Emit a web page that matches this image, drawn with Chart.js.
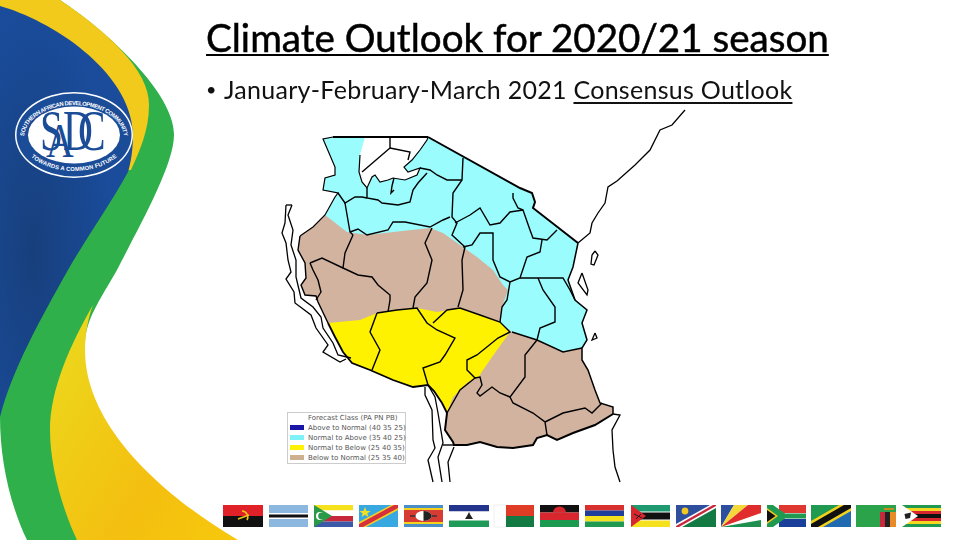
<!DOCTYPE html>
<html>
<head>
<meta charset="utf-8">
<title>Climate Outlook for 2020/21 season</title>
<script src="https://cdn.jsdelivr.net/npm/chart.js@4/dist/chart.umd.min.js"></script>
<style>
  html, body { margin:0; padding:0; background:#fff; }
  #slide { position:relative; width:960px; height:540px; overflow:hidden; font-family:Lato, "Open Sans", sans-serif; color:#111; }
  #deco, #mapCanvas { position:absolute; left:0; top:0; }
  #title { position:absolute; left:206px; top:13px; font-size:38.6px; line-height:48px; white-space:nowrap; text-decoration:underline; text-decoration-thickness:2px; text-underline-offset:2px; -webkit-text-stroke:0.5px #000; color:#000; }
  #bullet { position:absolute; left:206px; top:73px; font-size:18px; line-height:32px; }
  #subtitle { position:absolute; left:224px; top:73px; font-size:25px; line-height:32px; white-space:nowrap; letter-spacing:0.28px; }
  #subtitle u { text-decoration-thickness:1.5px; text-underline-offset:3px; }
  #legend { position:absolute; left:287px; top:412px; width:117px; height:50px; background:#fff; border:1px solid #ccc; font:7px/10px "DejaVu Sans", sans-serif; color:#555; white-space:nowrap; }
  #legend .head { position:absolute; left:20px; top:0; }
  #legend .row { position:absolute; left:20px; }
  #legend .sw { position:absolute; left:-18px; top:2px; width:14px; height:5px; }
</style>
</head>
<body>
<div id="slide">
  <svg id="deco" width="960" height="540" viewBox="0 0 960 540">
    <defs>
      <linearGradient id="lowY" x1="0" y1="0.2" x2="1" y2="1">
        <stop offset="0" stop-color="#ecd71c"/><stop offset="0.6" stop-color="#f4bf10"/><stop offset="1" stop-color="#f7c80c"/>
      </linearGradient>
      <radialGradient id="blueG" cx="0.25" cy="0.6" r="0.6">
        <stop offset="0" stop-color="#173f7c"/><stop offset="1" stop-color="#1a4c9b"/>
      </radialGradient>
      <path id="ringTop" d="M24 138 A50 33 0 0 1 124 138"/>
      <path id="ringBot" d="M18 132 A56 39 0 0 0 130 132"/>
    </defs>
    <!-- swooshes -->
    <path fill="#30b04b" d="M60 0 C110 33 175 95 174 135 C174 165 140 225 117 270 C100 300 85 320 85 345 L77 540 L27 540 C10 505 0 460 0 417 L0 0 Z"/>
    <path fill="url(#lowY)" d="M93 305 C70 345 50 390 50 430 C50 470 65 515 77 540 L238 540 C170 500 85 430 85 350 C85 335 88 318 93 305 Z"/>
    <path fill="#f2ca1b" d="M0 0 L60 0 C105 30 150 70 149 105 C149 130 140 150 131 170 L0 170 Z"/>
    <path fill="url(#blueG)" d="M0 6 C50 20 130 70 133 133 C133 150 131 162 128 172 C110 205 85 240 68 270 C40 320 12 370 0 417 Z"/>
    <!-- logo -->
    <ellipse cx="74" cy="135" rx="59" ry="43" fill="#fff"/>
    <ellipse cx="74" cy="135" rx="57.5" ry="41.5" fill="#1b4c97"/>
    <ellipse cx="74" cy="135" rx="46" ry="28.5" fill="#fff"/>
    <g font-family="'Liberation Sans'" font-size="5.8" font-weight="bold" fill="#fff" text-anchor="middle">
      <text><textPath href="#ringTop" startOffset="50%" textLength="128" lengthAdjust="spacing">SOUTHERN AFRICAN DEVELOPMENT COMMUNITY</textPath></text>
      <text><textPath href="#ringBot" startOffset="50%" textLength="92" lengthAdjust="spacing">TOWARDS A COMMON FUTURE</textPath></text>
    </g>
    <g font-family="'Liberation Serif'" fill="#1b4c97">
      <text transform="translate(40,150) scale(.74,1)" font-size="56">S</text>
      <text transform="translate(46,157) scale(.8,1)" font-size="48">A</text>
      <text transform="translate(63,150) scale(.74,1)" font-size="56">D</text>
      <text transform="translate(78,150) scale(.74,1)" font-size="56">C</text>
    </g>
    <!-- flags -->
    <g stroke="none">
      <g transform="translate(223,505)"><rect width="40" height="11" fill="#e02128"/><rect y="11" width="40" height="11" fill="#111"/><path d="M15 14 L26 10 M19 6 A6 6 0 0 1 24 15" stroke="#f0c419" stroke-width="1.6" fill="none"/></g>
      <g transform="translate(269,505)"><rect width="39" height="22" fill="#8cb8e0"/><rect y="8" width="39" height="6" fill="#fff"/><rect y="9.5" width="39" height="3" fill="#111"/></g>
      <g transform="translate(314,505)"><rect width="39" height="5.5" fill="#f5e11e"/><rect y="5.5" width="39" height="5.5" fill="#fff"/><rect y="11" width="39" height="5.5" fill="#c8283c"/><rect y="16.5" width="39" height="5.5" fill="#3c5aa8"/><path d="M0 0 L18 11 L0 22 Z" fill="#2a9a48"/><circle cx="6" cy="11" r="4" fill="#fff"/><circle cx="7.6" cy="11" r="3.4" fill="#2a9a48"/></g>
      <g transform="translate(359,505)"><rect width="39" height="22" fill="#38a8e0"/><path d="M0 17 L32 0 L39 0 L39 5 L7 22 L0 22 Z" fill="#f5d020"/><path d="M0 19 L35 0 L39 0 L39 3 L4 22 L0 22 Z" fill="#d6303c"/><path d="M6 2 L7.5 6 L11.5 6 L8.3 8.4 L9.5 12 L6 9.8 L2.5 12 L3.7 8.4 L.5 6 L4.5 6 Z" fill="#f5e11e"/></g>
      <g transform="translate(404,505)"><rect width="39" height="22" fill="#4a8ec8"/><rect y="3" width="39" height="16" fill="#f2d21f"/><rect y="5" width="39" height="12" fill="#d83a34"/><rect x="6" y="10.3" width="27" height="1.4" fill="#333"/><ellipse cx="19.5" cy="11" rx="8" ry="5" fill="#fff"/><path d="M19.5 6 A8 5 0 0 1 19.5 16 Z" fill="#222"/></g>
      <g transform="translate(449,505)"><rect width="40" height="6.5" fill="#23348c"/><rect y="6.5" width="40" height="9" fill="#fff"/><rect y="15.5" width="40" height="6.5" fill="#1f9a58"/><path d="M16 14 L24 14 L21.5 10 L20 7 L18.5 10 Z" fill="#222"/></g>
      <g transform="translate(494,505)"><rect width="12" height="22" fill="#fff" stroke="#ddd" stroke-width="0.5"/><rect x="12" width="28" height="11" fill="#df3c26"/><rect x="12" y="11" width="28" height="11" fill="#137a44"/></g>
      <g transform="translate(540,505)"><rect width="39" height="7.5" fill="#111"/><rect y="7.5" width="39" height="7.5" fill="#d8262e"/><rect y="15" width="39" height="7" fill="#1c9a50"/><path d="M13 7.5 A6.5 6 0 0 1 26 7.5 Z" fill="#d8262e"/></g>
      <g transform="translate(585,505)"><rect width="39" height="5.5" fill="#d8302e"/><rect y="5.5" width="39" height="5.5" fill="#1f3f9a"/><rect y="11" width="39" height="5.5" fill="#f5e11e"/><rect y="16.5" width="39" height="5.5" fill="#1f9a50"/></g>
      <g transform="translate(631,505)"><rect width="39" height="22" fill="#fff"/><rect width="39" height="6.5" fill="#1f9a70"/><rect y="7.5" width="39" height="7" fill="#111"/><rect y="15.5" width="39" height="6.5" fill="#f5e11e"/><path d="M0 0 L15 11 L0 22 Z" fill="#d8262e"/><path d="M3 9 L11 13 M5 14 L10 9" stroke="#222" stroke-width="1"/></g>
      <g transform="translate(676,505)"><rect width="40" height="22" fill="#fff"/><path d="M0 0 L40 0 L0 22 Z" fill="#2d4f9e"/><path d="M40 22 L0 22 L40 0 Z" fill="#137a44"/><path d="M0 19 L34 0 L40 0 L40 3 L6 22 L0 22 Z" fill="#fff"/><path d="M0 21 L37 0 L40 0 L40 1 L3 22 L0 22 Z" fill="#c8283c"/><circle cx="9" cy="6" r="3.4" fill="#f2c81f"/></g>
      <g transform="translate(721,505)"><rect width="40" height="22" fill="#fff"/><path d="M0 22 L0 0 L13 0 Z" fill="#2d4fa0"/><path d="M0 22 L13 0 L27 0 Z" fill="#f5d83a"/><path d="M0 22 L27 0 L40 0 L40 8 Z" fill="#e02c2c"/><path d="M0 22 L40 15 L40 22 Z" fill="#1f8f50"/></g>
      <g transform="translate(767,505)"><rect width="39" height="22" fill="#fff"/><rect x="12" width="27" height="8" fill="#de3831"/><rect x="12" y="14" width="27" height="8" fill="#1a3f9a"/><path d="M0 0 L6 0 L18 8.5 L39 8.5 L39 13.5 L18 13.5 L6 22 L0 22 Z" fill="#1f9a50"/><path d="M0 3 L11 11 L0 19 Z" fill="#f2c81f"/><path d="M0 5 L8.5 11 L0 17 Z" fill="#111"/></g>
      <g transform="translate(811,505)"><path d="M0 22 L0 0 L40 0 Z" fill="#1f9a50"/><path d="M0 22 L40 22 L40 0 Z" fill="#1f6ab0"/><path d="M0 16 L28 0 L40 0 L40 6 L12 22 L0 22 Z" fill="#f2d21f"/><path d="M0 19 L33 0 L40 0 L40 3 L7 22 L0 22 Z" fill="#111"/></g>
      <g transform="translate(856,505)"><rect width="40" height="22" fill="#2aa34a"/><rect x="24" y="7" width="5" height="15" fill="#c8283c"/><rect x="29" y="7" width="5" height="15" fill="#222"/><rect x="34" y="7" width="6" height="15" fill="#e88a25"/><path d="M28 4 L38 4" stroke="#c98a25" stroke-width="2"/></g>
      <g transform="translate(902,505)"><rect width="39" height="22" fill="#1f9a50"/><rect y="3" width="39" height="16" fill="#f5d81f"/><rect y="6" width="39" height="10" fill="#d8262e"/><rect y="9" width="39" height="4" fill="#111"/><path d="M0 0 L16 11 L0 22 Z" fill="#fff"/><path d="M2.5 9 L9 7.5 L8 13 L3.5 14 Z" fill="#222"/></g>
    </g>
  </svg>

  <canvas id="mapCanvas" width="960" height="540" style="width:960px;height:540px"></canvas>

  <div id="title">Climate Outlook for 2020/21 season</div>
  <div id="bullet">•</div>
  <div id="subtitle">January-February-March 2021 <u>Consensus Outlook</u></div>
  <div id="legend"><div class="head">Forecast Class (PA PN PB)</div></div>
</div>

<script>
// forecast classes
const legendLabels = ['Above to Normal (40 35 25)', 'Normal to Above (35 40 25)', 'Normal to Below (25 40 35)', 'Below to Normal (25 35 40)'];
const legendColors = ['#1a17a8', '#7ff2f7', '#fff200', '#cdb08f'];
const zoneCyan = '#9bfcfd', zoneYellow = '#fff200', zoneTan = '#d2b3a0';

// outline pieces
const nwEdge = [[325,215],[313,227],[300,236]];
const nwEdgeUp = [[325,215],[335,197],[338,193],[323,190],[325,178],[335,175],[335,167],[323,139],[333,137]];
const kenyaEdge = [[428,137],[520,188],[532,193],[535,202],[533,208],[578,243]];
const coastNorth = [[578,243],[573,267],[568,280],[575,300],[587,310],[582,323],[587,340],[582,348]];
const coastSouth = [[582,348],[582,360],[588,370],[595,390],[600,403],[613,407],[613,414]];
const southEdge = [[613,414],[595,425],[573,433],[557,440],[547,435],[537,438],[533,445],[513,448],[497,447],[480,442],[467,445],[454,445],[453,442],[445,430],[447,413]];
const malawiEdge = [[447,413],[442,403],[434,391],[428,385],[413,387],[393,380],[370,370],[352,363],[343,352],[335,337],[328,323]];
const tanganyikaEdge = [[328,323],[318,302],[316,296],[305,295],[301,285],[306,278],[305,263],[298,250],[300,236]];

// where the classes meet
const cyanTanEdge = [[582,348],[563,352],[537,340],[512,332],[500,322],[502,307],[508,290],[503,285],[493,270],[477,257],[460,245],[443,233],[430,228],[393,232],[368,235],[347,232],[325,215]];
const yellowTop = [[328,323],[360,320],[377,313],[397,310],[417,308],[437,312],[450,310],[460,308],[480,315],[500,322],[510,332],[497,350],[483,370],[478,378],[468,382],[453,397],[447,413]];

const lakeVictoria = [[365,137],[428,137],[427,140],[420,150],[412,160],[404,167],[408,172],[420,168],[417,175],[405,180],[393,178],[388,180],[380,182],[375,175],[372,177],[367,188],[362,182],[359,172],[360,155]];
const pemba = [[595,251],[598,255],[594,265],[591,264],[592,255]];
const zanzibar = [[582,273],[578,283],[587,295],[588,290]];
const mafia = [[595,333],[592,340],[597,338]];

// district borders
const borders = [
  [[463,158],[462,180],[453,193],[452,217],[457,223],[452,235],[465,247]],
  [[420,168],[430,170],[437,175],[447,180],[462,180]],
  [[427,173],[418,183],[413,190],[410,202],[398,205],[382,203],[378,200],[367,198],[367,188]],
  [[367,198],[362,197],[355,197],[345,203],[338,193]],
  [[345,203],[350,232],[353,235]],
  [[350,232],[358,229],[367,235],[388,230],[393,222],[405,222],[430,227],[443,220],[450,217]],
  [[432,228],[425,243],[432,260],[427,283],[415,297],[413,308]],
  [[353,235],[345,253],[343,268],[358,275],[372,277],[378,285],[390,295],[390,300],[388,312]],
  [[310,263],[322,258],[343,268]],
  [[310,263],[313,270],[318,280],[321,292],[316,300]],
  [[465,247],[462,260],[463,290],[458,307]],
  [[455,223],[470,215],[480,208],[490,225],[500,223],[510,212],[523,210],[530,230],[533,238],[547,240],[557,230]],
  [[513,193],[513,198],[518,208],[523,210]],
  [[463,247],[472,245],[480,233],[493,233],[493,260],[500,277],[510,282],[520,278],[527,257],[540,252],[542,240]],
  [[510,282],[507,300],[502,307],[500,322]],
  [[520,278],[538,278],[563,278],[570,290],[575,300]],
  [[538,278],[543,290],[555,307],[555,322],[540,328],[537,340]],
  [[512,332],[537,340],[563,352],[582,348]],
  [[537,340],[525,355],[525,377],[510,397],[513,403],[533,413],[545,422],[547,435]],
  [[545,422],[563,413],[585,408],[592,413],[602,403]],
  [[377,313],[370,332],[380,350],[372,370]],
  [[377,313],[397,310],[417,308],[427,323],[437,330],[455,338],[445,355],[440,362],[423,368],[428,385]],
  [[433,323],[447,310],[460,308],[480,315],[500,322],[510,332],[498,338],[477,355],[467,360],[467,370],[475,378],[460,390],[447,413]],
  [[475,378],[480,377],[482,385],[477,393],[480,396],[492,387],[500,393],[510,397]],
  [[390,137],[390,148],[362,172]],
  [[390,148],[410,152],[408,160]],
  [[394,178],[392,186],[391,193],[394,190]],
  [[443,445],[454,445]]
];

// lakes and neighbouring coast
const waters = [
  [[286,205],[285,223],[282,233],[286,243],[288,260],[291,272],[286,279],[294,292],[295,303],[311,315],[316,328],[328,345],[323,352],[340,362],[346,359]],
  [[292,205],[288,215],[293,230],[291,245],[296,260],[296,277],[301,298],[313,307],[321,317],[323,328],[333,343],[338,355],[351,358]],
  [[286,205],[292,205]],
  [[425,387],[425,395],[432,410],[433,440],[435,448],[428,460],[433,482]],
  [[428,385],[435,397],[438,413],[443,443],[438,457],[442,482]],
  [[454,447],[448,462],[450,482]],
  [[613,414],[620,415],[612,430],[613,450],[615,467],[620,482]],
  [[578,243],[590,233],[592,223],[598,213],[605,203],[608,187],[617,181],[635,165],[650,150],[660,130],[672,125],[685,110]]
];

function area(points, color){
  return { data: points, showLine: true, fill: 'shape', backgroundColor: color, borderWidth: 0, pointRadius: 0, tension: 0 };
}
function stroke(points, width){
  return { data: points, showLine: true, fill: false, borderColor: '#000', borderWidth: width, pointRadius: 0, tension: 0 };
}
function island(points){
  return { data: points.concat([points[0]]), showLine: true, fill: 'shape', backgroundColor: '#fff', borderColor: '#000', borderWidth: 1.3, pointRadius: 0, tension: 0 };
}

const outline = nwEdge.slice().reverse().concat(nwEdgeUp, kenyaEdge, coastNorth, coastSouth, southEdge, malawiEdge, tanganyikaEdge);
const cyanArea = nwEdgeUp.concat(kenyaEdge, coastNorth, cyanTanEdge);

// first in this list is painted first
const layers = [
  area(outline, zoneTan),
  area(cyanArea, zoneCyan),
  area(yellowTop.concat(malawiEdge), zoneYellow),
  area(lakeVictoria, '#fff'),
  stroke(lakeVictoria.slice(1), 1.2),
  ...borders.map(b => stroke(b, 1.4)),
  ...waters.map(w => stroke(w, 1.3)),
  stroke(nwEdgeUp.slice().reverse().concat(nwEdge), 1.2),
  stroke([[333,137],[428,137]], 2.2),
  stroke(kenyaEdge, 2),
  stroke(coastNorth.concat(coastSouth), 1.5),
  stroke(southEdge, 2),
  stroke(malawiEdge, 1.8),
  stroke(tanganyikaEdge, 1.4),
  island(pemba), island(zanzibar), island(mafia)
];

// chart.js paints the first dataset last, so flip it
const datasets = layers.slice().reverse();

new Chart(document.getElementById('mapCanvas'), {
  type: 'scatter',
  data: { datasets },
  options: {
    responsive: false,
    animation: false,
    layout: { padding: 0 },
    plugins: { legend: { display: false }, tooltip: { enabled: false }, title: { display: false } },
    scales: {
      x: { type: 'linear', display: false, min: 0, max: 960 },
      y: { type: 'linear', display: false, min: 0, max: 540, reverse: true }
    }
  }
});

// legend box
const legendEl = document.getElementById('legend');
legendLabels.forEach((label, i) => {
  const row = document.createElement('div');
  row.className = 'row';
  row.style.top = (10 + i * 10) + 'px';
  row.innerHTML = `<span class="sw" style="background:${legendColors[i]}"></span>${label}`;
  legendEl.appendChild(row);
});
</script>
</body>
</html>
